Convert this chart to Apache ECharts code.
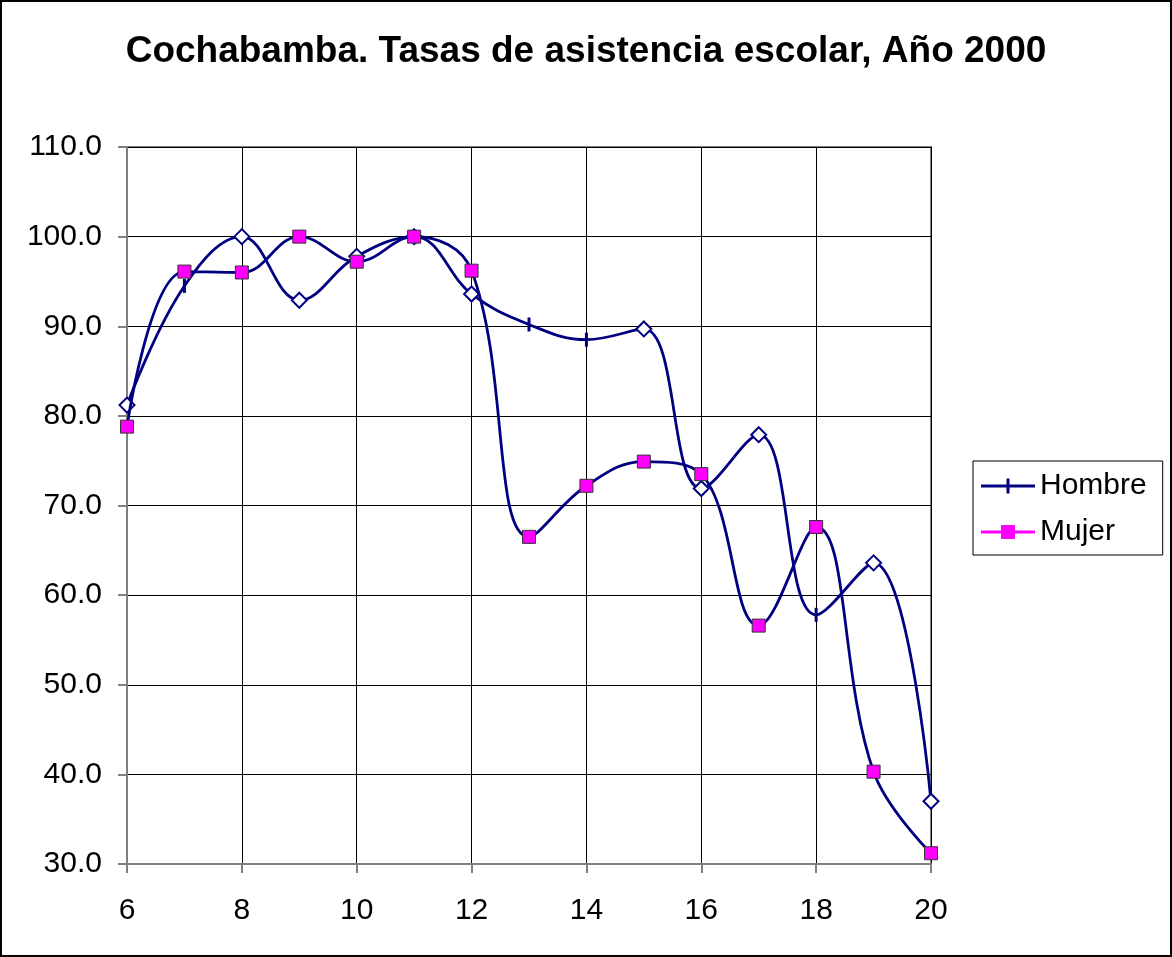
<!DOCTYPE html>
<html>
<head>
<meta charset="utf-8">
<title>Cochabamba. Tasas de asistencia escolar</title>
<script src="https://cdn.jsdelivr.net/npm/echarts@6/dist/echarts.min.js"></script>
<style>
  html, body { margin: 0; padding: 0; background: #fff; }
  #main { width: 1172px; height: 957px; }
</style>
</head>
<body>
<div id="main"></div>
<script>
// edades (eje x) y tasas
var edades = [6, 7, 8, 9, 10, 11, 12, 13, 14, 15, 16, 17, 18, 19, 20];
var hombre = [81.2, 94.5, 100.0, 92.9, 97.8, 100.0, 93.6, 90.2, 88.5, 89.7, 71.9, 77.9, 57.8, 63.6, 37.0];
var mujer = [78.8, 96.1, 96.0, 100.0, 97.2, 100.0, 96.2, 66.5, 72.2, 74.9, 73.5, 56.6, 67.6, 40.3, 31.2];
// puntos de Hombre que llevan la marca "+" en vez del rombo
var hombreCruz = [7, 13, 14, 18];

var navy = '#000080';
var magenta = '#ff00ff';

// iconos de leyenda: linea + marca (54 x 15)
var iconHombre = 'path://M0,6 L54,6 L54,9 L0,9 Z M25.5,0 L28.5,0 L28.5,15 L25.5,15 Z';
var iconMujer = 'path://M0,6 L54,6 L54,9 L0,9 Z M20,0.5 L34,0.5 L34,14.5 L20,14.5 Z M0,0 L0.01,0 L0.01,15 L0,15 Z';

var hombreData = edades.map(function (e, i) {
    if (hombreCruz.indexOf(e) >= 0) {
        return {
            value: [e, hombre[i]],
            symbol: 'path://M0,0 L2,0 L2,14 L0,14 Z',
            symbolSize: [3, 14],
            itemStyle: { color: navy, borderWidth: 0 }
        };
    }
    return { value: [e, hombre[i]] };
});
var mujerData = edades.map(function (e, i) {
    return [e, mujer[i]];
});

var myChart = echarts.init(document.getElementById('main'));

var option = {
    backgroundColor: '#fff',
    animation: false,
    textStyle: { fontFamily: 'Liberation Sans, Arial, sans-serif' },
    title: {
        text: 'Cochabamba. Tasas de asistencia escolar, Año 2000',
        left: 'center',
        top: 28,
        textStyle: { fontSize: 37, fontWeight: 'bold', color: '#000' }
    },
    legend: {
        orient: 'vertical',
        left: 973,
        top: 461,
        padding: [10, 16, 8, 8],
        itemGap: 16,
        itemWidth: 54,
        itemHeight: 15,
        symbolKeepAspect: false,
        borderColor: '#000',
        borderWidth: 1,
        textStyle: { fontSize: 30, color: '#000', lineHeight: 28 },
        data: [
            { name: 'Hombre', icon: iconHombre, itemStyle: { color: navy, borderWidth: 0 } },
            { name: 'Mujer', icon: iconMujer, itemStyle: { color: magenta, borderWidth: 0 } }
        ]
    },
    grid: {
        left: 127,
        top: 147,
        right: 241,
        bottom: 93,
        show: true,
        borderColor: '#808080',
        borderWidth: 2
    },
    xAxis: {
        type: 'value',
        min: 6,
        max: 20,
        interval: 2,
        axisLine: { show: true, onZero: false, lineStyle: { color: '#808080', width: 2 } },
        axisTick: { show: true, length: 9, lineStyle: { color: '#808080', width: 2 } },
        axisLabel: { fontSize: 30, color: '#000', margin: 32 },
        splitLine: { show: true, lineStyle: { color: '#000', width: 1 } }
    },
    yAxis: {
        type: 'value',
        min: 30,
        max: 110,
        interval: 10,
        axisLine: { show: true, lineStyle: { color: '#808080', width: 2 } },
        axisTick: { show: true, length: 9, lineStyle: { color: '#808080', width: 2 } },
        axisLabel: {
            fontSize: 30,
            color: '#000',
            margin: 25,
            formatter: function (v) { return v.toFixed(1); }
        },
        splitLine: { show: true, lineStyle: { color: '#000', width: 1 } }
    },
    series: [
        {
            name: 'Hombre',
            type: 'line',
            smooth: 0.4,
            data: hombreData,
            symbol: 'diamond',
            symbolSize: 15,
            showAllSymbol: true,
            lineStyle: { color: navy, width: 2.8 },
            itemStyle: { color: '#fff', borderColor: navy, borderWidth: 2 },
            z: 2
        },
        {
            name: 'Mujer',
            type: 'line',
            smooth: 0.4,
            data: mujerData,
            symbol: 'rect',
            symbolSize: 13,
            showAllSymbol: true,
            lineStyle: { color: navy, width: 2.8 },
            itemStyle: { color: magenta, borderColor: '#333', borderWidth: 1 },
            z: 3
        }
    ],
    graphic: [
        {
            type: 'rect',
            shape: { x: 1, y: 1, width: 1170, height: 955 },
            style: { fill: null, stroke: '#000', lineWidth: 2 },
            silent: true
        }
    ]
};

myChart.setOption(option);
window.onresize = function () {
    myChart.resize();
};
</script>
</body>
</html>
